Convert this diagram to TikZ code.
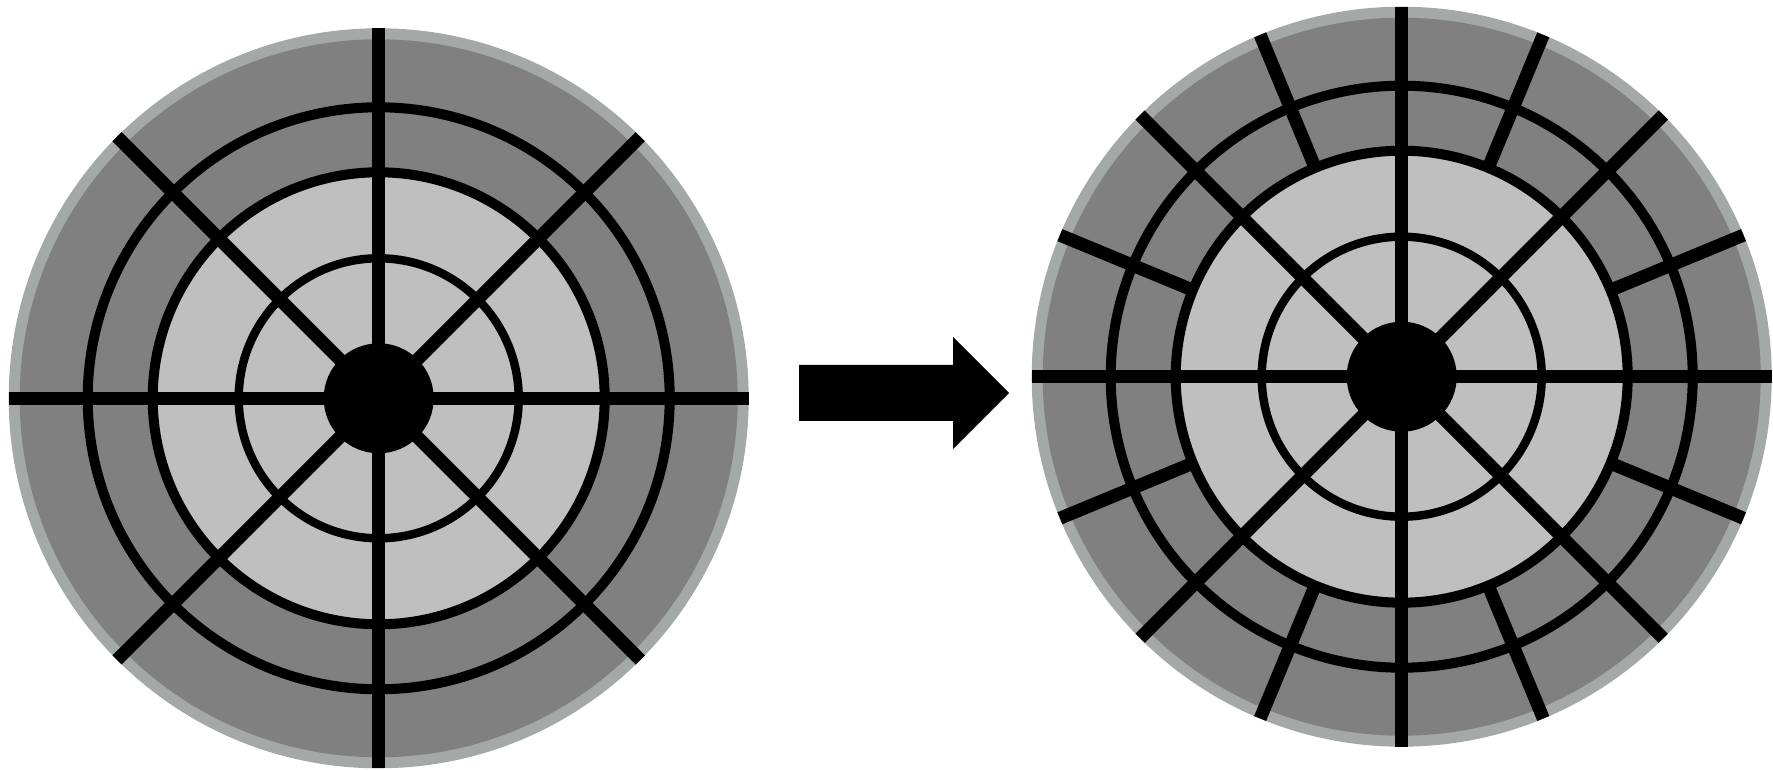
\documentclass[tikz,border=0pt]{standalone}
\usepackage{tikz}
\usetikzlibrary{calc}
\definecolor{rimgray}{RGB}{164,168,166}
\definecolor{darkgray}{RGB}{128,128,128}
\definecolor{lightgray}{RGB}{191,191,191}

\begin{document}
\begin{tikzpicture}[
  rimfill/.style={fill=rimgray},
  darkfill/.style={fill=darkgray},
  lightfill/.style={fill=lightgray},
  ring/.style={draw=black, line width=2.85pt},
  thinring/.style={draw=black, line width=2.4pt},
  spoke/.style={draw=black, line width=3.7pt},
  hub/.style={fill=black}
]
\useasboundingbox (0,0) rectangle (17.73,7.71);
% Centres
\coordinate (L) at (3.787,3.727);
\coordinate (R) at (14.017,3.943);
% Discs
\foreach \c in {L,R} {
  \fill[rimfill] (\c) circle (3.70);
  \fill[darkfill] (\c) circle (3.59);
  \fill[lightfill] (\c) circle (2.26);
  \draw[ring] (\c) circle (2.91);
  \draw[ring] (\c) circle (2.26);
  \draw[thinring] (\c) circle (1.40);
  \foreach \a in {0,45,...,315}
    \draw[spoke] (\c) -- ++(\a:3.70);
}
% Extra spokes (right disc)
\foreach \a in {22.5,67.5,...,337.5}
  \draw[spoke] ($(R)+(\a:2.26)$) -- ($(R)+(\a:3.70)$);
% Hubs
\foreach \c in {L,R}
  \fill[hub] (\c) circle (0.55);
% Arrow
\fill (7.99,3.50) -- (9.53,3.50) -- (9.53,3.22) -- (10.09,3.78) -- (9.53,4.34) -- (9.53,4.06) -- (7.99,4.06) -- cycle;
\end{tikzpicture}
\end{document}
